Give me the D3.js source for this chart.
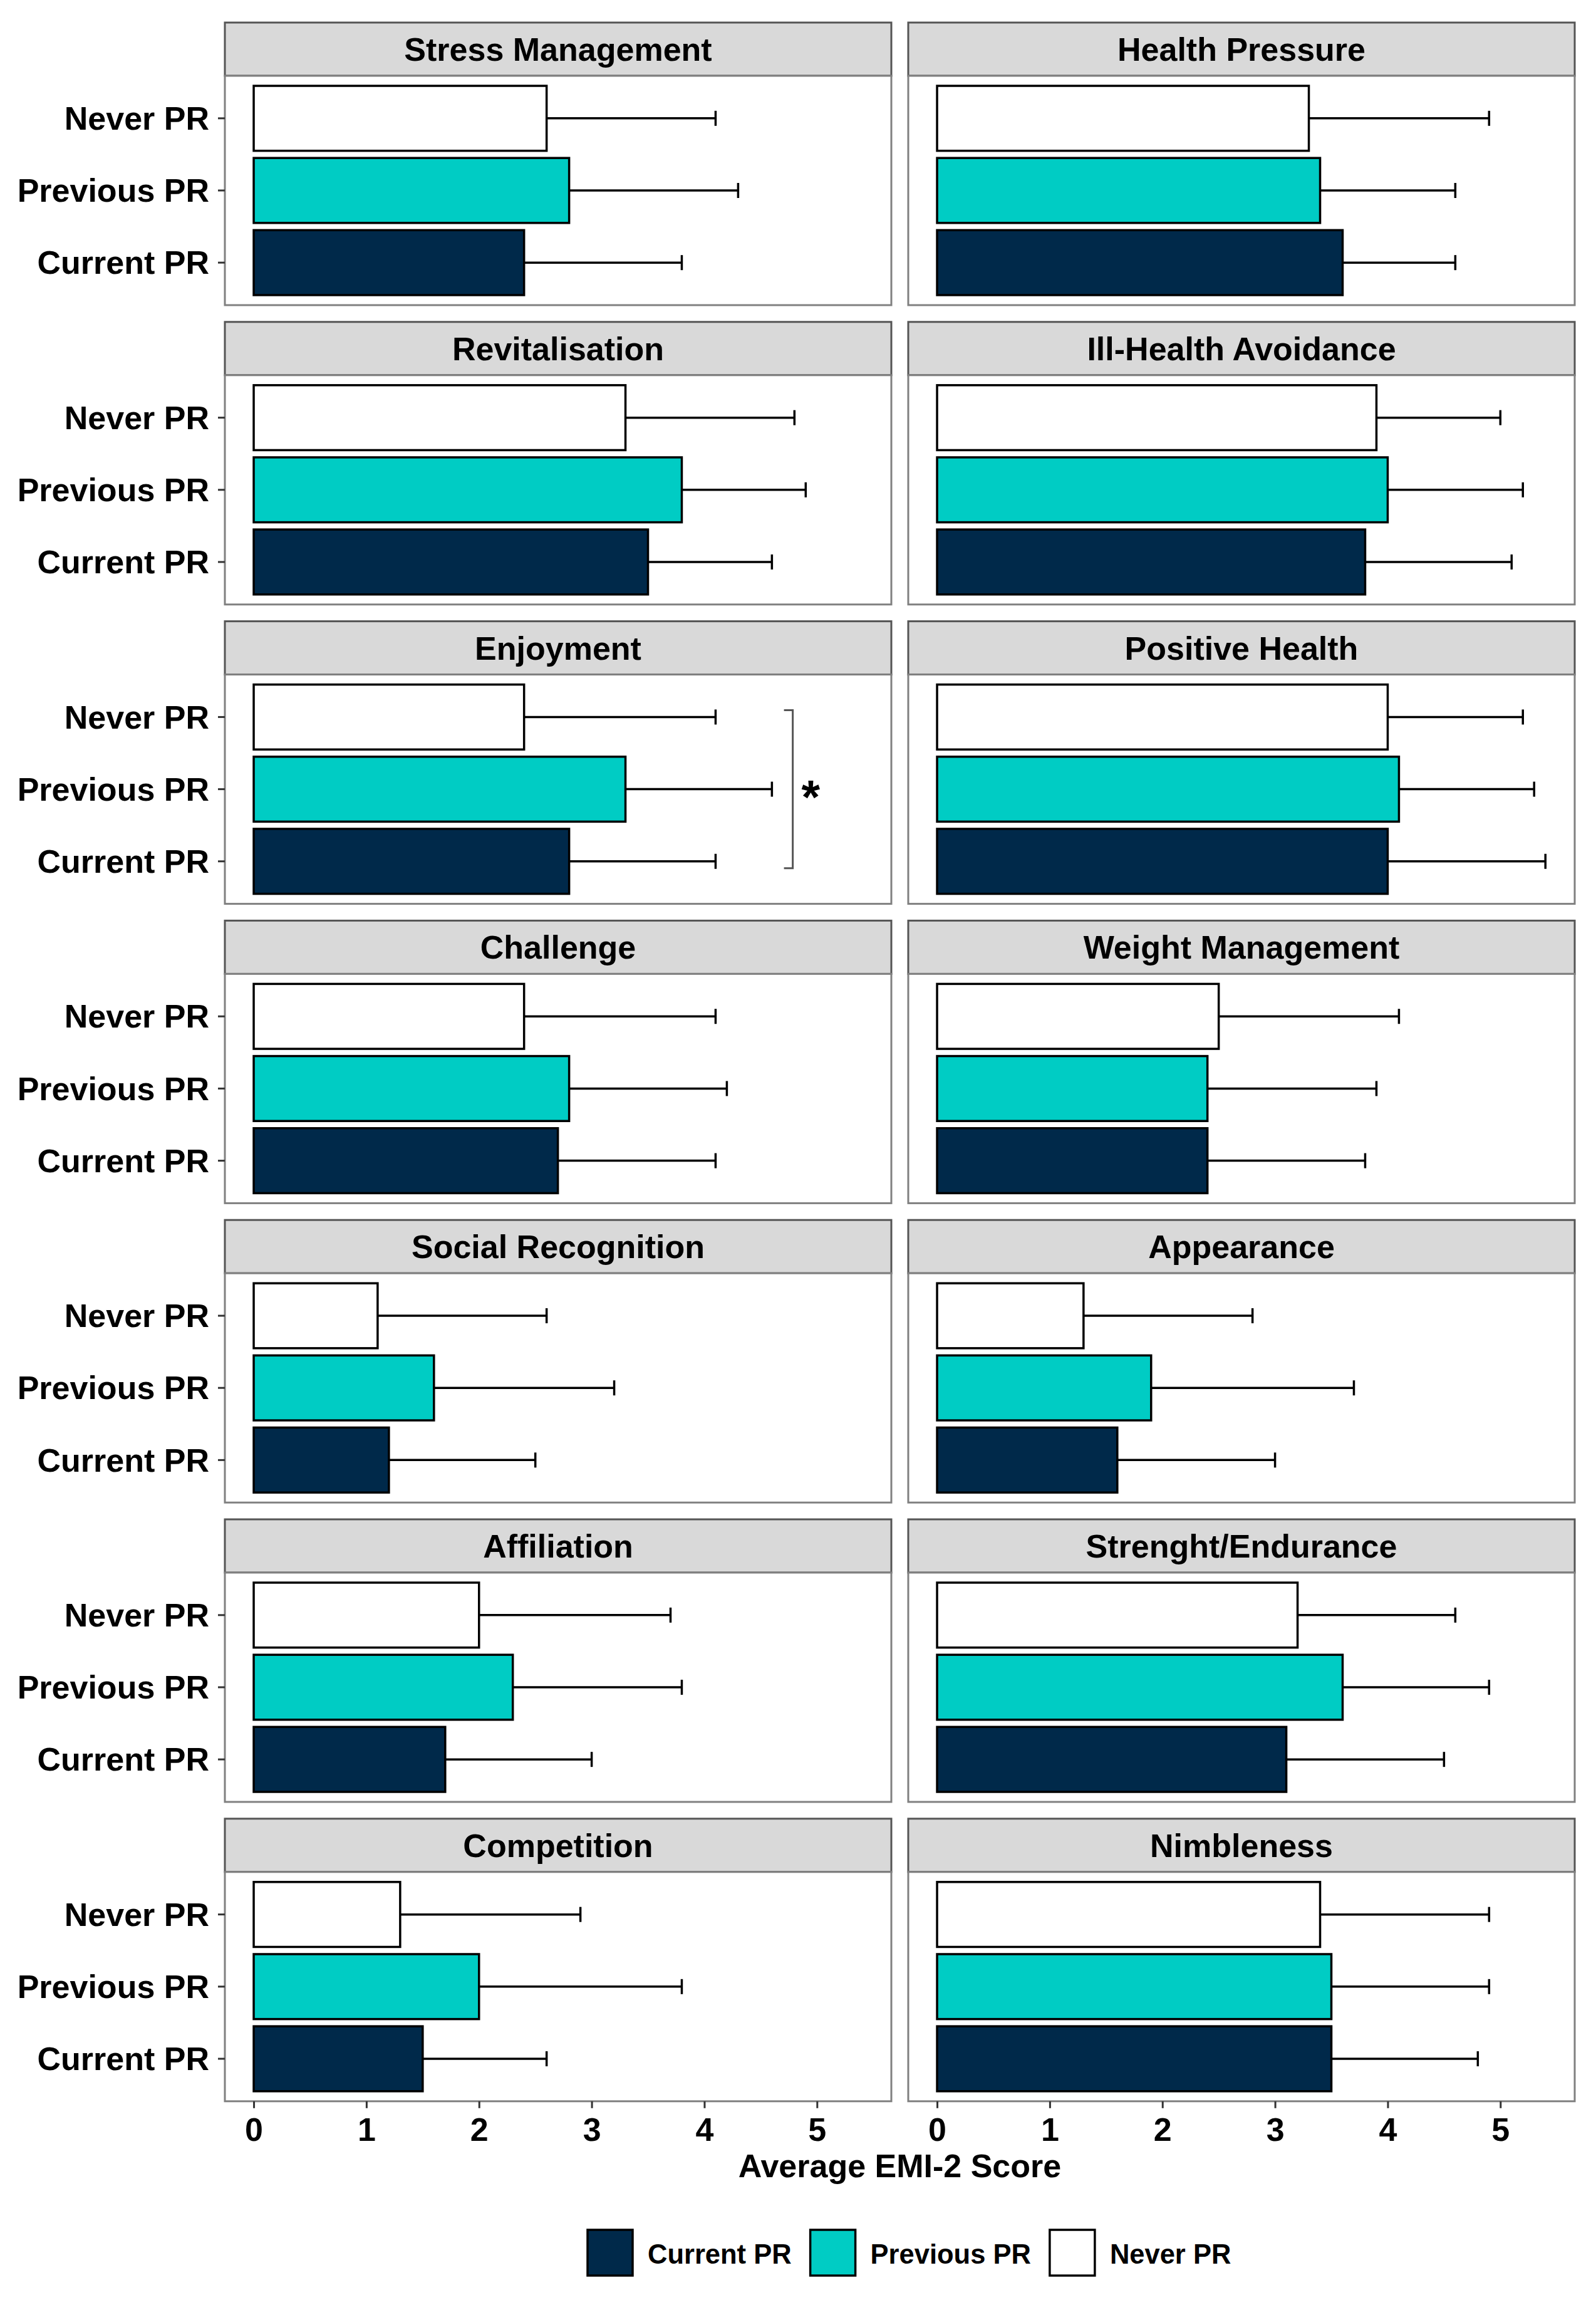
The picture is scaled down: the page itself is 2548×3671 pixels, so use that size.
<!DOCTYPE html>
<html><head><meta charset="utf-8">
<script src="https://cdn.jsdelivr.net/npm/d3@7"></script>
<style>
body{margin:0;background:#fff}
text{font-family:"Liberation Sans",Arial,Helvetica,sans-serif;font-weight:bold;fill:#000}
</style>
</head><body>
<svg id="chart" width="2548" height="3671"></svg>
<script>
// ---------------- data ----------------
const motives = ["Stress Management","Health Pressure","Revitalisation","Ill-Health Avoidance",
  "Enjoyment","Positive Health","Challenge","Weight Management","Social Recognition","Appearance",
  "Affiliation","Strenght/Endurance","Competition","Nimbleness"];
const groups = ["Never PR","Previous PR","Current PR"];
const legendGroups = ["Current PR","Previous PR","Never PR"];
const neverMean     = [2.6,3.3,3.3,3.9,2.4,4.0,2.4,2.5,1.1,1.3,2.0,3.2,1.3,3.4];
const neverUpper    = [4.1,4.9,4.8,5.0,4.1,5.2,4.1,4.1,2.6,2.8,3.7,4.6,2.9,4.9];
const previousMean  = [2.8,3.4,3.8,4.0,3.3,4.1,2.8,2.4,1.6,1.9,2.3,3.6,2.0,3.5];
const previousUpper = [4.3,4.6,4.9,5.2,4.6,5.3,4.2,3.9,3.2,3.7,3.8,4.9,3.8,4.9];
const currentMean   = [2.4,3.6,3.5,3.8,2.8,4.0,2.7,2.4,1.2,1.6,1.7,3.1,1.5,3.5];
const currentUpper  = [3.8,4.6,4.6,5.1,4.1,5.4,4.1,3.8,2.5,3.0,3.0,4.5,2.6,4.8];
const xTicks = [0,1,2,3,4,5];
const xTitle = "Average EMI-2 Score";
// significance annotation
const sigMotive = "Enjoyment";
const sigFrom = "Never PR";
const sigTo = "Current PR";
const sigX = 4.785;
const sigLabel = "*";

// ---------------- styles / layout ----------------
const colors = {"Current PR":"#00294A","Previous PR":"#00CCC4","Never PR":"#FFFFFF"};
const meanBy = {"Never PR":neverMean,"Previous PR":previousMean,"Current PR":currentMean};
const upperBy = {"Never PR":neverUpper,"Previous PR":previousUpper,"Current PR":currentUpper};

const colX = [359, 1450];
const panelW = 1064;
const rowTop0 = 36, rowPitch = 477.8;
const stripH = 85, bodyH = 366;
const fs = 52;

const svg = d3.select("#chart");
const x = d3.scaleLinear().domain([-0.256, 5.66]).range([0, panelW]);
const y = d3.scaleBand().domain(groups).range([0, bodyH]).paddingInner(0.1).paddingOuter(0.139);

motives.forEach((m, i) => {
  const col = i % 2, row = Math.floor(i / 2);
  const px = colX[col];
  const top = rowTop0 + row * rowPitch;
  const g = svg.append("g").attr("transform", `translate(${px},${top})`);

  // strip
  g.append("rect").attr("x",0).attr("y",0).attr("width",panelW).attr("height",stripH)
    .attr("fill","#D9D9D9").attr("stroke","#555").attr("stroke-width",3);
  g.append("text").attr("x",panelW/2).attr("y",61).attr("text-anchor","middle")
    .attr("font-size",fs).text(m);

  const body = g.append("g").attr("transform",`translate(0,${stripH})`);
  body.append("rect").attr("width",panelW).attr("height",bodyH).attr("fill","#fff");

  const rows = groups.map(gr => ({group:gr, mean:meanBy[gr][i], upper:upperBy[gr][i]}));

  // error bars
  const eb = body.selectAll("g.eb").data(rows).join("g").attr("class","eb");
  eb.append("line")
    .attr("x1",d=>x(d.mean)).attr("x2",d=>x(d.upper))
    .attr("y1",d=>y(d.group)+y.bandwidth()/2).attr("y2",d=>y(d.group)+y.bandwidth()/2)
    .attr("stroke","#000").attr("stroke-width",3.5);
  eb.append("line")
    .attr("x1",d=>x(d.upper)).attr("x2",d=>x(d.upper))
    .attr("y1",d=>y(d.group)+y.bandwidth()/2-12).attr("y2",d=>y(d.group)+y.bandwidth()/2+12)
    .attr("stroke","#000").attr("stroke-width",3.5);

  // bars
  body.selectAll("rect.bar").data(rows).join("rect").attr("class","bar")
    .attr("x",x(0)).attr("y",d=>y(d.group))
    .attr("width",d=>x(d.mean)-x(0)).attr("height",y.bandwidth())
    .attr("fill",d=>colors[d.group]).attr("stroke","#000").attr("stroke-width",3.5);

  // significance bracket
  if (m === sigMotive) {
    const y1 = y(sigFrom)+y.bandwidth()/2-11, y2 = y(sigTo)+y.bandwidth()/2+11;
    const bx = x(sigX), tick = x(sigX) - x(sigX-0.078);
    body.append("path")
      .attr("d",`M${bx-tick},${y1}H${bx}V${y2}H${bx-tick}`)
      .attr("fill","none").attr("stroke","#555").attr("stroke-width",3);
    body.append("text").attr("x",x(sigX+0.16)).attr("y",(y1+y2)/2+38)
      .attr("text-anchor","middle").attr("font-size",76).text(sigLabel);
  }

  // panel border
  body.append("rect").attr("width",panelW).attr("height",bodyH)
    .attr("fill","none").attr("stroke","#808080").attr("stroke-width",3);

  // y axis (left column)
  if (col === 0) {
    const ya = body.append("g").call(d3.axisLeft(y).tickSize(11).tickPadding(14));
    ya.select(".domain").remove();
    ya.selectAll(".tick line").attr("stroke","#333").attr("stroke-width",3);
    ya.selectAll(".tick text").attr("font-size",fs).attr("font-family",null)
      .attr("fill","#000").attr("dy","0.35em");
  }
  // x axis (bottom row)
  if (row === 6) {
    const xa = body.append("g").attr("transform",`translate(0,${bodyH})`)
      .call(d3.axisBottom(x).tickValues(xTicks).tickSize(11).tickPadding(15).tickFormat(d3.format("d")));
    xa.select(".domain").remove();
    xa.selectAll(".tick line").attr("stroke","#333").attr("stroke-width",3);
    xa.selectAll(".tick text").attr("font-size",fs).attr("font-family",null).attr("fill","#000");
  }
});

// axis title
svg.append("text").attr("x",(colX[0]+colX[1]+panelW)/2).attr("y",3475)
  .attr("text-anchor","middle").attr("font-size",fs).text(xTitle);

// legend
let lx = 938;
const keyW = 72, keyH = 73, keyY = 3559;
legendGroups.forEach(gr => {
  svg.append("rect").attr("x",lx).attr("y",keyY).attr("width",keyW).attr("height",keyH)
    .attr("fill",colors[gr]).attr("stroke","#000").attr("stroke-width",3.5);
  const t = svg.append("text").attr("x",lx+keyW+24).attr("y",3613).attr("font-size",43.5).text(gr);
  lx = lx + keyW + 24 + t.node().getComputedTextLength() + 30;
});
</script>
</body></html>
